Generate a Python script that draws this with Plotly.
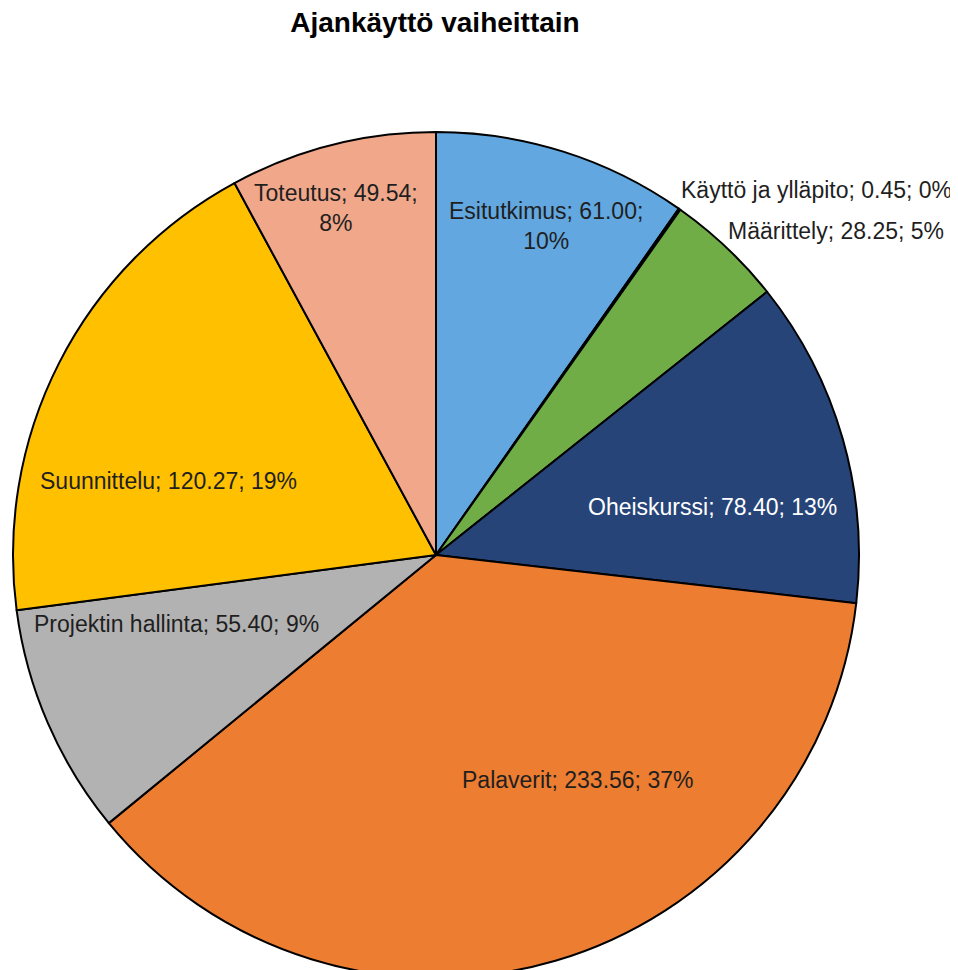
import math
import plotly.graph_objects as go

labels = ["Esitutkimus", "Käyttö ja ylläpito", "Määrittely", "Oheiskurssi",
          "Palaverit", "Projektin hallinta", "Suunnittelu", "Toteutus"]
values = [61.00, 0.45, 28.25, 78.40, 233.56, 55.40, 120.27, 49.54]
colors = ["#62A7DF", "#843C0C", "#70AD47", "#264478",
          "#ED7D31", "#B2B2B2", "#FFC000", "#F0A78A"]
text_colors = ["#1f1f1f", "#1f1f1f", "#1f1f1f", "#ffffff",
               "#1f1f1f", "#1f1f1f", "#1f1f1f", "#1f1f1f"]
# label placement (style): angle clockwise from 12 o'clock, radius as fraction of pie radius
label_angle = [18.7, 46.5, 51.3, 80.9, 148.2, 254.3, 284.7, 343.7]
label_radius = [0.815, 1.245, 1.217, 0.664, 0.640, 0.641, 0.656, 0.849]
label_break = [True, False, False, False, False, False, False, True]

W, H = 958, 970
FONT = "Liberation Sans, Arial, sans-serif"
# pie centre / radius in figure pixels (domain below is centred here)
CX, CY, R = 428, 543, 421

fig = go.Figure(go.Pie(
    labels=labels,
    values=values,
    sort=False,
    direction="clockwise",
    rotation=0,
    marker=dict(colors=colors, line=dict(color="#000000", width=2)),
    textinfo="none",
    showlegend=False,
    hoverinfo="label+value+percent",
    domain=dict(x=[4 / W, 852 / W], y=[0, 1 - 124 / H]),
))

total = sum(values)
for lab, val, col, ang, rad, brk in zip(labels, values, text_colors,
                                         label_angle, label_radius, label_break):
    pct = round(100 * val / total)
    sep = "<br>" if brk else " "
    txt = f"{lab}; {val:.2f};{sep}{pct}%"
    a = math.radians(ang)
    px = CX + rad * R * math.sin(a)
    py = CY - rad * R * math.cos(a)
    fig.add_annotation(
        x=px / W, y=1 - py / H, xref="paper", yref="paper",
        text=txt, showarrow=False, xanchor="center", yanchor="middle",
        align="center",
        font=dict(family=FONT, size=23, color=col),
    )

fig.update_layout(
    width=W, height=H,
    margin=dict(l=0, r=0, t=0, b=0),
    paper_bgcolor="white",
    title=dict(text="<b>Ajankäyttö vaiheittain</b>", x=427 / W, xanchor="center",
               y=1 - 14 / H, yanchor="middle",
               font=dict(family=FONT, size=28, color="#000000")),
)

fig.write_html("out.html")
